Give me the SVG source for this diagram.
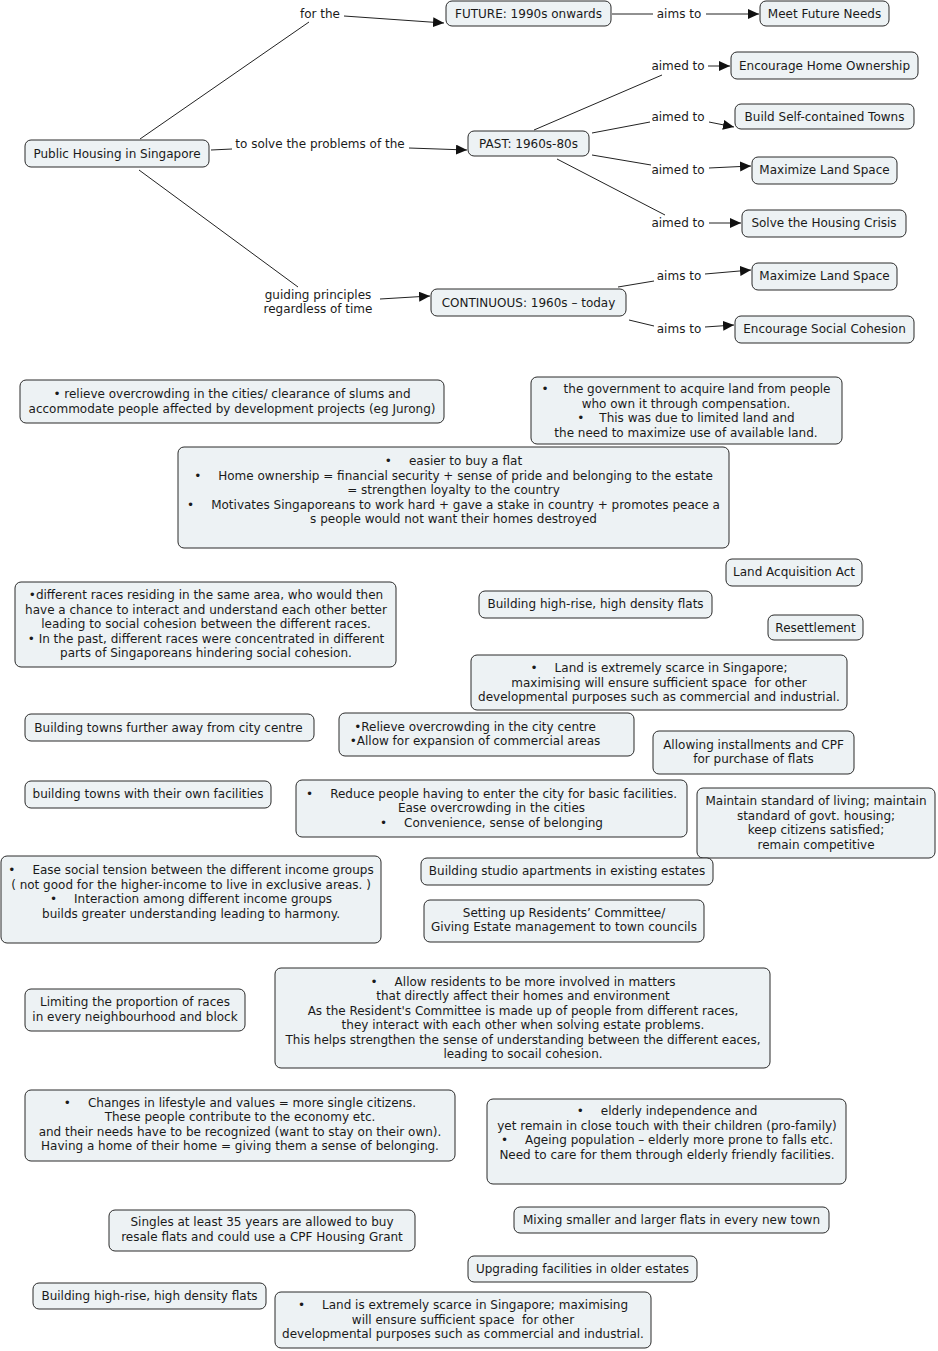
<svg xmlns="http://www.w3.org/2000/svg" width="938" height="1351" viewBox="0 0 938 1351">
<style>
text{font-family:"DejaVu Sans",Verdana,sans-serif;font-size:12px;fill:#1a1a1a;text-anchor:middle}
.n rect{fill:#edf2f4;stroke:#2a2a2a;stroke-width:1}
#connectors line{stroke:#222;stroke-width:1;fill:none}
#connectors line.a{marker-end:url(#arr)}
</style>
<defs>
<marker id="arr" markerUnits="userSpaceOnUse" markerWidth="11" markerHeight="10" refX="11" refY="5" orient="auto">
<path d="M0,0 L11,5 L0,10 z" fill="#111"/>
</marker>
</defs>
<rect width="938" height="1351" fill="#fff"/>
<g id="connectors">
<line x1="140" y1="139" x2="309" y2="22"/>
<line class="a" x1="344" y1="16" x2="444" y2="23"/>
<line x1="211" y1="150" x2="232" y2="149"/>
<line class="a" x1="409" y1="148" x2="467" y2="150"/>
<line x1="139" y1="170" x2="298" y2="287"/>
<line class="a" x1="380" y1="299" x2="430" y2="296"/>
<line x1="612" y1="14" x2="653" y2="14"/>
<line class="a" x1="706" y1="14" x2="759" y2="14"/>
<line x1="534" y1="130" x2="662" y2="75"/>
<line class="a" x1="708" y1="66" x2="730" y2="66"/>
<line x1="592" y1="133" x2="650" y2="122"/>
<line class="a" x1="709" y1="122" x2="734" y2="127"/>
<line x1="592" y1="155" x2="651" y2="165"/>
<line class="a" x1="709" y1="168" x2="751" y2="166"/>
<line x1="557" y1="159" x2="665" y2="215"/>
<line class="a" x1="709" y1="223" x2="741" y2="223"/>
<line x1="618" y1="287" x2="654" y2="281"/>
<line class="a" x1="705" y1="274" x2="751" y2="270"/>
<line x1="629" y1="320" x2="654" y2="326"/>
<line class="a" x1="705" y1="327" x2="734" y2="325"/>
<text x="320" y="18">for the</text>
<text x="320" y="148">to solve the problems of the</text>
<text x="318" y="299">guiding principles</text>
<text x="318" y="313">regardless of time</text>
<text x="679" y="18">aims to</text>
<text x="678" y="70">aimed to</text>
<text x="678" y="121">aimed to</text>
<text x="678" y="174">aimed to</text>
<text x="678" y="227">aimed to</text>
<text x="679" y="280">aims to</text>
<text x="679" y="333">aims to</text>
</g>
<g id="n1" class="n"><rect x="25" y="140" width="184" height="27" rx="6"/><text x="117" y="158">Public Housing in Singapore</text></g>
<g id="n2" class="n"><rect x="446" y="1" width="165" height="25" rx="6"/><text x="528.5" y="18">FUTURE: 1990s onwards</text></g>
<g id="n3" class="n"><rect x="760" y="1" width="129" height="25" rx="6"/><text x="824.5" y="18">Meet Future Needs</text></g>
<g id="n4" class="n"><rect x="468" y="131" width="121" height="25" rx="6"/><text x="528.5" y="147.5">PAST: 1960s-80s</text></g>
<g id="n5" class="n"><rect x="431" y="289" width="195" height="27" rx="6"/><text x="528.5" y="306.5">CONTINUOUS: 1960s – today</text></g>
<g id="n6" class="n"><rect x="731" y="52" width="187" height="27" rx="6"/><text x="824.5" y="69.5">Encourage Home Ownership</text></g>
<g id="n7" class="n"><rect x="735" y="104" width="179" height="25" rx="6"/><text x="824.5" y="120.5">Build Self-contained Towns</text></g>
<g id="n8" class="n"><rect x="752" y="157" width="145" height="27" rx="6"/><text x="824.5" y="174">Maximize Land Space</text></g>
<g id="n9" class="n"><rect x="742" y="210" width="164" height="27" rx="6"/><text x="824" y="227">Solve the Housing Crisis</text></g>
<g id="n10" class="n"><rect x="752" y="263" width="145" height="27" rx="6"/><text x="824.5" y="280">Maximize Land Space</text></g>
<g id="n11" class="n"><rect x="735" y="316" width="179" height="27" rx="6"/><text x="824.5" y="333">Encourage Social Cohesion</text></g>

<g id="bA" class="n"><rect x="20" y="380" width="424" height="43" rx="6"/>
<text x="232" y="398">• relieve overcrowding in the cities/ clearance of slums and</text>
<text x="232" y="413">accommodate people affected by development projects (eg Jurong)</text></g>
<g id="bB" class="n"><rect x="531" y="377" width="311" height="67" rx="6"/>
<text x="686" y="393"><tspan>•</tspan><tspan dx="15">the government to acquire land from people</tspan></text>
<text x="686" y="408">who own it through compensation.</text>
<text x="686" y="422"><tspan>•</tspan><tspan dx="15">This was due to limited land and</tspan></text>
<text x="686" y="437">the need to maximize use of available land.</text></g>
<g id="bC" class="n"><rect x="178" y="447" width="551" height="101" rx="6"/>
<text x="453.5" y="465"><tspan>•</tspan><tspan dx="17">easier to buy a flat</tspan></text>
<text x="453.5" y="480"><tspan>•</tspan><tspan dx="17">Home ownership = financial security + sense of pride and belonging to the estate</tspan></text>
<text x="453.5" y="494">= strengthen loyalty to the country</text>
<text x="453.5" y="509"><tspan>•</tspan><tspan dx="17">Motivates Singaporeans to work hard + gave a stake in country + promotes peace a</tspan></text>
<text x="453.5" y="523">s people would not want their homes destroyed</text></g>
<g id="bD" class="n"><rect x="726" y="559" width="136" height="27" rx="6"/><text x="794" y="576">Land Acquisition Act</text></g>
<g id="bE" class="n"><rect x="479" y="591" width="233" height="27" rx="6"/><text x="595.5" y="608">Building high-rise, high density flats</text></g>
<g id="bF" class="n"><rect x="768" y="615" width="95" height="25" rx="6"/><text x="815.5" y="631.5">Resettlement</text></g>
<g id="bG" class="n"><rect x="471" y="655" width="376" height="55" rx="6"/>
<text x="659" y="672"><tspan>•</tspan><tspan dx="17">Land is extremely scarce in Singapore;</tspan></text>
<text x="659" y="687" xml:space="preserve">maximising will ensure sufficient space  for other</text>
<text x="659" y="701">developmental purposes such as commercial and industrial.</text></g>
<g id="bH" class="n"><rect x="15" y="582" width="381" height="85" rx="6"/>
<text x="206" y="599">•different races residing in the same area, who would then</text>
<text x="206" y="613.5">have a chance to interact and understand each other better</text>
<text x="206" y="628">leading to social cohesion between the different races.</text>
<text x="206" y="642.5">• In the past, different races were concentrated in different</text>
<text x="206" y="657">parts of Singaporeans hindering social cohesion.</text></g>
<g id="bI" class="n"><rect x="25" y="714" width="289" height="27" rx="6"/><text x="168.5" y="731.5">Building towns further away from city centre</text></g>
<g id="bJ" class="n"><rect x="339" y="713" width="295" height="43" rx="6"/>
<text x="475" y="731">•Relieve overcrowding in the city centre</text>
<text x="475" y="745">•Allow for expansion of commercial areas</text></g>
<g id="bM" class="n"><rect x="653" y="731" width="201" height="43" rx="6"/>
<text x="753.5" y="749">Allowing installments and CPF</text>
<text x="753.5" y="763">for purchase of flats</text></g>
<g id="bK" class="n"><rect x="25" y="781" width="246" height="27" rx="6"/><text x="148" y="798">building towns with their own facilities</text></g>
<g id="bL" class="n"><rect x="296" y="780" width="391" height="57" rx="6"/>
<text x="491.5" y="798"><tspan>•</tspan><tspan dx="17">Reduce people having to enter the city for basic facilities.</tspan></text>
<text x="491.5" y="812">Ease overcrowding in the cities</text>
<text x="491.5" y="827"><tspan>•</tspan><tspan dx="17">Convenience, sense of belonging</tspan></text></g>
<g id="bN" class="n"><rect x="697" y="788" width="238" height="70" rx="6"/>
<text x="816" y="805">Maintain standard of living; maintain</text>
<text x="816" y="819.5">standard of govt. housing;</text>
<text x="816" y="834">keep citizens satisfied;</text>
<text x="816" y="848.5">remain competitive</text></g>
<g id="bO" class="n"><rect x="1" y="856" width="380" height="87" rx="6"/>
<text x="191" y="874"><tspan>•</tspan><tspan dx="17">Ease social tension between the different income groups</tspan></text>
<text x="191" y="888.5">( not good for the higher-income to live in exclusive areas. )</text>
<text x="191" y="903"><tspan>•</tspan><tspan dx="17">Interaction among different income groups</tspan></text>
<text x="191" y="917.5">builds greater understanding leading to harmony.</text></g>
<g id="bP" class="n"><rect x="421" y="858" width="292" height="27" rx="6"/><text x="567" y="875">Building studio apartments in existing estates</text></g>
<g id="bQ" class="n"><rect x="424" y="900" width="280" height="42" rx="6"/>
<text x="564" y="917">Setting up Residents’ Committee/</text>
<text x="564" y="931">Giving Estate management to town councils</text></g>
<g id="bR" class="n"><rect x="25" y="989" width="220" height="42" rx="6"/>
<text x="135" y="1006">Limiting the proportion of races</text>
<text x="135" y="1020.5">in every neighbourhood and block</text></g>
<g id="bS" class="n"><rect x="275" y="968" width="495" height="100" rx="6"/>
<text x="523" y="986"><tspan>•</tspan><tspan dx="17">Allow residents to be more involved in matters</tspan></text>
<text x="523" y="1000">that directly affect their homes and environment</text>
<text x="523" y="1015">As the Resident's Committee is made up of people from different races,</text>
<text x="523" y="1029">they interact with each other when solving estate problems.</text>
<text x="523" y="1044">This helps strengthen the sense of understanding between the different eaces,</text>
<text x="523" y="1058">leading to socail cohesion.</text></g>
<g id="bT" class="n"><rect x="25" y="1090" width="430" height="71" rx="6"/>
<text x="240" y="1107"><tspan>•</tspan><tspan dx="17">Changes in lifestyle and values = more single citizens.</tspan></text>
<text x="240" y="1121">These people contribute to the economy etc.</text>
<text x="240" y="1136">and their needs have to be recognized (want to stay on their own).</text>
<text x="240" y="1150">Having a home of their home = giving them a sense of belonging.</text></g>
<g id="bU" class="n"><rect x="487" y="1099" width="359" height="85" rx="6"/>
<text x="667" y="1115"><tspan>•</tspan><tspan dx="17">elderly independence and</tspan></text>
<text x="667" y="1130">yet remain in close touch with their children (pro-family)</text>
<text x="667" y="1144"><tspan>•</tspan><tspan dx="17">Ageing population – elderly more prone to falls etc.</tspan></text>
<text x="667" y="1159">Need to care for them through elderly friendly facilities.</text></g>
<g id="bV" class="n"><rect x="109" y="1210" width="306" height="41" rx="6"/>
<text x="262" y="1226">Singles at least 35 years are allowed to buy</text>
<text x="262" y="1241">resale flats and could use a CPF Housing Grant</text></g>
<g id="bW" class="n"><rect x="514" y="1207" width="315" height="26" rx="6"/><text x="671.5" y="1224">Mixing smaller and larger flats in every new town</text></g>
<g id="bX" class="n"><rect x="468" y="1256" width="229" height="26" rx="6"/><text x="582.5" y="1273">Upgrading facilities in older estates</text></g>
<g id="bY" class="n"><rect x="33" y="1283" width="233" height="26" rx="6"/><text x="149.5" y="1300">Building high-rise, high density flats</text></g>
<g id="bZ" class="n"><rect x="275" y="1292" width="376" height="56" rx="6"/>
<text x="463" y="1309"><tspan>•</tspan><tspan dx="17">Land is extremely scarce in Singapore; maximising</tspan></text>
<text x="463" y="1324" xml:space="preserve">will ensure sufficient space  for other</text>
<text x="463" y="1338">developmental purposes such as commercial and industrial.</text></g>
</svg>
